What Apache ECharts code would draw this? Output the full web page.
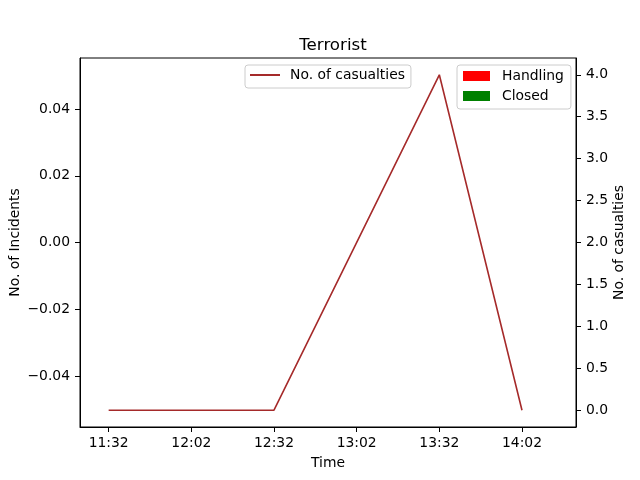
<!DOCTYPE html>
<html><head><meta charset="utf-8">
<script src="https://cdn.jsdelivr.net/npm/echarts@6/dist/echarts.min.js"></script>
<style>html,body{margin:0;padding:0;background:#fff}#c{width:640px;height:480px}</style>
</head><body><div id="c"></div>
<script>
const times = ['11:32', '12:32', '13:32', '14:02'];
const casualties = [0, 0, 4, 0];
const xTickLabels = ['11:32', '12:02', '12:32', '13:02', '13:32', '14:02'];
const leftTicks = [-0.04, -0.02, 0.00, 0.02, 0.04];
const rightTicks = [0, 0.5, 1, 1.5, 2, 2.5, 3, 3.5, 4];
const handling = [];
const closed = [];

function toMin(t){const [h,m]=t.split(':').map(Number);return h*60+m;}
const base = toMin(times[0]);
const xTickVals = xTickLabels.map(t=>toMin(t)-base);
const lineData = times.map((t,i)=>[toMin(t)-base, casualties[i]]);
const font = 'DejaVu Sans';
const fs = 13.9;
const chart = echarts.init(document.getElementById('c'));
chart.setOption({
  animation:false,
  title:{text:'Terrorist',left:328,textAlign:'center',top:32,textStyle:{fontFamily:font,fontSize:16.7,fontWeight:'normal',color:'#000'}},
  grid:{left:80,right:64,top:58,bottom:53,outerBoundsMode:'none',containLabel:false,show:true,borderColor:'#000',borderWidth:1,backgroundColor:'transparent'},
  legend:[
    {data:['No. of casualties'],left:245,top:65,icon:'rect',itemWidth:30,itemHeight:2,padding:[3,6,6,5],
     borderColor:'#ccc',borderWidth:1,borderRadius:3,
     textStyle:{fontFamily:font,fontSize:fs,color:'#000',padding:[0,0,0,5]}},
    {data:['Handling','Closed'],left:457,top:65,orient:'vertical',icon:'rect',itemWidth:27,itemHeight:10,itemGap:6,
     padding:[4,7,6,6],borderColor:'#ccc',borderWidth:1,borderRadius:3,
     textStyle:{fontFamily:font,fontSize:fs,color:'#000',padding:[0,0,0,7]}}
  ],
  xAxis:{type:'value',min:-10.4,max:169.6,name:'Time',nameLocation:'middle',nameGap:29,nameMoveOverlap:false,
    nameTextStyle:{fontFamily:font,fontSize:fs,color:'#000'},
    axisLine:{show:true,onZero:false,lineStyle:{color:'#000'}},splitLine:{show:false},
    axisTick:{show:true,length:5,customValues:xTickVals,lineStyle:{color:'#000'}},
    axisLabel:{customValues:xTickVals,margin:9,fontFamily:font,fontSize:fs,color:'#000',
      formatter:v=>{const i=xTickVals.indexOf(v);return i>=0?xTickLabels[i]:'';}}},
  yAxis:[
    {type:'value',min:-0.0553,max:0.0553,position:'left',name:'No. of Incidents',nameLocation:'middle',nameGap:58,nameMoveOverlap:false,
     nameTextStyle:{fontFamily:font,fontSize:fs,color:'#000'},
     axisLine:{show:true,onZero:false,lineStyle:{color:'#000'}},splitLine:{show:false},
     axisTick:{show:true,length:5,customValues:leftTicks,lineStyle:{color:'#000'}},
     axisLabel:{customValues:leftTicks,margin:10,fontFamily:font,fontSize:fs,color:'#000',
       formatter:v=>{const s=Math.abs(v).toFixed(2);return v< -1e-9?'\u2212'+s:s;}}},
    {type:'value',min:-0.2,max:4.2,position:'right',name:'No. of casualties',nameLocation:'middle',nameGap:36,nameMoveOverlap:false,
     nameRotate:90,nameTextStyle:{fontFamily:font,fontSize:fs,color:'#000'},
     axisLine:{show:true,onZero:false,lineStyle:{color:'#000'}},splitLine:{show:false},
     axisTick:{show:true,length:5,customValues:rightTicks,lineStyle:{color:'#000'}},
     axisLabel:{customValues:rightTicks,margin:10,fontFamily:font,fontSize:fs,color:'#000',
       formatter:v=>v.toFixed(1)}}
  ],
  series:[
    {name:'No. of casualties',type:'line',yAxisIndex:1,data:lineData,symbol:'none',
     lineStyle:{color:'#a52a2a',width:1.6},itemStyle:{color:'#a52a2a'}},
    {name:'Handling',type:'bar',yAxisIndex:0,data:handling,itemStyle:{color:'#ff0000'}},
    {name:'Closed',type:'bar',yAxisIndex:0,data:closed,itemStyle:{color:'#008000'}}
  ]
});
</script></body></html>
